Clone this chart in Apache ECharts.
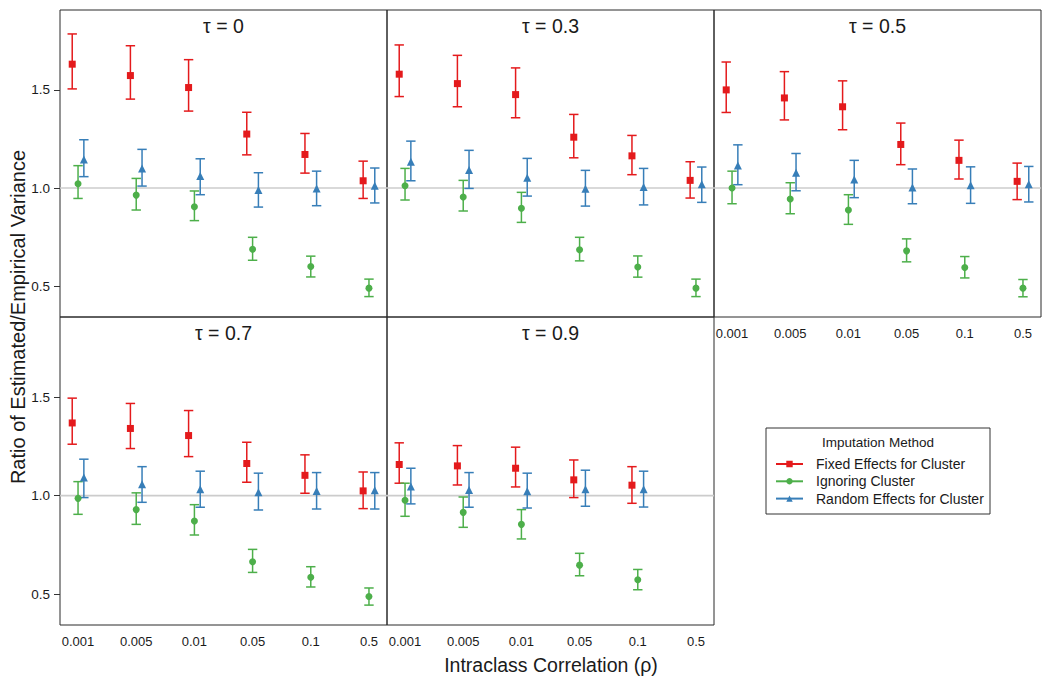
<!DOCTYPE html>
<html><head><meta charset="utf-8">
<script src="https://cdn.jsdelivr.net/npm/echarts@6/dist/echarts.min.js"></script>
<style>html,body{margin:0;padding:0;background:#fff}#c{width:1050px;height:688px}</style>
</head><body><div id="c"></div>
<script>
const rhoLabels = ['0.001','0.005','0.01','0.05','0.1','0.5'];
const tauLabels = ['0','0.3','0.5','0.7','0.9'];
const methodNames = ['Fixed Effects for Cluster','Ignoring Cluster','Random Effects for Cluster'];
const yTickValues = [0.5, 1.0, 1.5];
const refValue = 1.0;

// rows: tau panels (0, 0.3, 0.5, 0.7, 0.9); columns: rho categories
const fixedEst = [
 [1.631,1.573,1.512,1.275,1.171,1.037],
 [1.580,1.532,1.476,1.259,1.164,1.039],
 [1.500,1.459,1.414,1.222,1.141,1.034],
 [1.369,1.341,1.305,1.163,1.103,1.024],
 [1.158,1.151,1.139,1.080,1.053,null]];
const fixedLo = [
 [1.505,1.453,1.392,1.169,1.076,0.947],
 [1.466,1.414,1.358,1.154,1.068,0.949],
 [1.385,1.347,1.297,1.119,1.046,0.941],
 [1.261,1.239,1.198,1.068,1.012,0.934],
 [1.063,1.054,1.044,0.990,0.961,null]];
const fixedHi = [
 [1.785,1.725,1.654,1.386,1.278,1.137],
 [1.729,1.676,1.612,1.375,1.268,1.134],
 [1.642,1.593,1.546,1.331,1.244,1.127],
 [1.495,1.468,1.432,1.271,1.207,1.120],
 [1.268,1.254,1.246,1.181,1.147,null]];
const ignoreEst = [
 [1.022,0.964,0.905,0.688,0.600,0.490],
 [1.012,0.954,0.897,0.686,0.598,0.490],
 [1.000,0.944,0.888,0.680,0.595,0.490],
 [0.986,0.929,0.871,0.664,0.585,0.488],
 [0.976,0.915,0.854,0.647,0.573,null]];
const ignoreLo = [
 [0.947,0.888,0.834,0.632,0.547,0.447],
 [0.939,0.883,0.825,0.629,0.546,0.447],
 [0.920,0.869,0.815,0.624,0.542,0.446],
 [0.905,0.854,0.800,0.610,0.536,0.444],
 [0.895,0.839,0.780,0.593,0.522,null]];
const ignoreHi = [
 [1.114,1.049,0.985,0.749,0.653,0.536],
 [1.100,1.039,0.978,0.749,0.654,0.536],
 [1.086,1.027,0.966,0.741,0.651,0.534],
 [1.071,1.014,0.954,0.727,0.639,0.531],
 [1.063,0.993,0.929,0.707,0.625,null]];
const randomEst = [
 [1.146,1.100,1.061,0.990,0.998,1.012],
 [1.134,1.092,1.053,0.997,1.005,1.019],
 [1.115,1.078,1.044,1.003,1.014,1.019],
 [1.092,1.058,1.032,1.017,1.024,1.027],
 [1.046,1.029,1.022,1.032,1.032,null]];
const randomLo = [
 [1.058,1.010,0.966,0.903,0.910,0.924],
 [1.037,0.998,0.959,0.908,0.914,0.927],
 [1.017,0.986,0.951,0.920,0.922,0.929],
 [0.990,0.966,0.941,0.927,0.932,0.932],
 [0.958,0.941,0.937,0.946,0.942,null]];
const randomHi = [
 [1.246,1.197,1.149,1.078,1.086,1.102],
 [1.239,1.192,1.151,1.090,1.100,1.107],
 [1.220,1.176,1.141,1.097,1.108,1.110],
 [1.185,1.147,1.124,1.114,1.117,1.117],
 [1.139,1.117,1.114,1.129,1.124,null]];

const methods = [
  {est: fixedEst, lo: fixedLo, hi: fixedHi},
  {est: ignoreEst, lo: ignoreLo, hi: ignoreHi},
  {est: randomEst, lo: randomLo, hi: randomHi}
];
const colors = ['#E41A1C','#4DAF4A','#377EB8'];
const symbols = ['rect','circle','triangle'];
const symbolSizes = [7,7,8];
const dodge = [-0.1, 0, 0.1];
const FONT = 'Liberation Sans, Arial, Helvetica, sans-serif';
const TXT = '#1a1a1a';

const panels = [
  {left:60, top:10, h:307, showX:false, showY:true},
  {left:387, top:10, h:307, showX:false, showY:false},
  {left:714, top:10, h:307, showX:true, showY:false},
  {left:60, top:317, h:308, showX:true, showY:true},
  {left:387, top:317, h:308, showX:true, showY:false}
];
const PW = 327;

const grid = [], xAxis = [], yAxis = [], series = [], graphic = [];
const xCats = rhoLabels.map((_, i) => i + 1);

panels.forEach((p, k) => {
  grid.push({left:p.left, top:p.top, width:PW, height:p.h, show:true,
    borderColor:'#2a2a2a', borderWidth:1, backgroundColor:'transparent', containLabel:false});
  xAxis.push({type:'value', gridIndex:k, min:0.69, max:6.31,
    axisLine:{show:false}, splitLine:{show:false}, axisTick:{show:false},
    axisLabel:{show:p.showX, customValues:xCats, margin:10, fontSize:13, color:TXT, fontFamily:FONT,
      formatter:v => rhoLabels[Math.round(v) - 1]}});
  yAxis.push({type:'value', gridIndex:k, min:0.343, max:1.907,
    axisLine:{show:false}, splitLine:{show:false},
    axisTick:{show:p.showY, customValues:yTickValues, length:6, lineStyle:{color:'#333', width:1}},
    axisLabel:{show:p.showY, customValues:yTickValues, margin:10, fontSize:13.5, color:TXT, fontFamily:FONT,
      formatter:v => v.toFixed(1)}});
  // reference line at 1.0
  series.push({type:'custom', xAxisIndex:k, yAxisIndex:k, z:1, silent:true,
    data:[[1, refValue]], encode:{x:0, y:1},
    renderItem:(params, api) => {
      const cs = params.coordSys;
      const y = api.coord([1, api.value(1)])[1];
      return {type:'line', shape:{x1:cs.x, y1:y, x2:cs.x + cs.width, y2:y},
        style:{stroke:'#cccccc', lineWidth:1.6}};
    }});
  methods.forEach((m, j) => {
    const ebData = [], ptData = [];
    xCats.forEach((x, i) => {
      if (m.est[k][i] == null) return;
      ebData.push([x + dodge[j], m.lo[k][i], m.hi[k][i]]);
      ptData.push([x + dodge[j], m.est[k][i]]);
    });
    series.push({type:'custom', xAxisIndex:k, yAxisIndex:k, z:2, silent:true,
      data:ebData, encode:{x:0, y:[1,2]},
      renderItem:(params, api) => {
        const x = api.value(0);
        const pLo = api.coord([x, api.value(1)]);
        const pHi = api.coord([x, api.value(2)]);
        const w = 4.7;
        const st = {stroke:colors[j], lineWidth:1.5};
        return {type:'group', children:[
          {type:'line', shape:{x1:pLo[0], y1:pLo[1], x2:pHi[0], y2:pHi[1]}, style:st},
          {type:'line', shape:{x1:pLo[0]-w, y1:pLo[1], x2:pLo[0]+w, y2:pLo[1]}, style:st},
          {type:'line', shape:{x1:pHi[0]-w, y1:pHi[1], x2:pHi[0]+w, y2:pHi[1]}, style:st}
        ]};
      }});
    series.push({type:'line', name:methodNames[j], xAxisIndex:k, yAxisIndex:k, z:3,
      data:ptData, symbol:symbols[j], symbolSize:symbolSizes[j], showSymbol:true,
      lineStyle:{opacity:0, width:0}, itemStyle:{color:colors[j], borderWidth:0},
      emphasis:{disabled:true}, silent:true});
  });
  graphic.push({type:'text', x:p.left + PW/2, y:p.top + 16,
    style:{text:'τ = ' + tauLabels[k], font:'19.5px ' + FONT, fill:TXT, align:'center', verticalAlign:'middle'}});
});

graphic.push({type:'text', x:18, y:317, rotation:Math.PI/2,
  style:{text:'Ratio of Estimated/Empirical Variance', font:'20px ' + FONT, fill:TXT, align:'center', verticalAlign:'middle'}});
graphic.push({type:'text', x:551, y:665,
  style:{text:'Intraclass Correlation (ρ)', font:'19.5px ' + FONT, fill:TXT, align:'center', verticalAlign:'middle'}});
graphic.push({type:'rect', shape:{x:766, y:428, width:224, height:86}, z:-1,
  style:{fill:'#fff', stroke:'#333', lineWidth:1}});
graphic.push({type:'text', x:878, y:442,
  style:{text:'Imputation Method', font:'13.5px ' + FONT, fill:TXT, align:'center', verticalAlign:'middle'}});

const chart = echarts.init(document.getElementById('c'), null, {renderer:'svg'});
chart.setOption({
  animation:false,
  backgroundColor:'#fff',
  grid, xAxis, yAxis, series, graphic,
  legend:{data:methodNames, orient:'vertical', left:770, top:452, itemWidth:27, itemHeight:8, itemGap:3.3,
    selectedMode:false, lineStyle:{width:2, opacity:1},
    textStyle:{fontSize:14, lineHeight:14, color:TXT, fontFamily:FONT, padding:[0,0,0,8]}}
});
</script></body></html>
